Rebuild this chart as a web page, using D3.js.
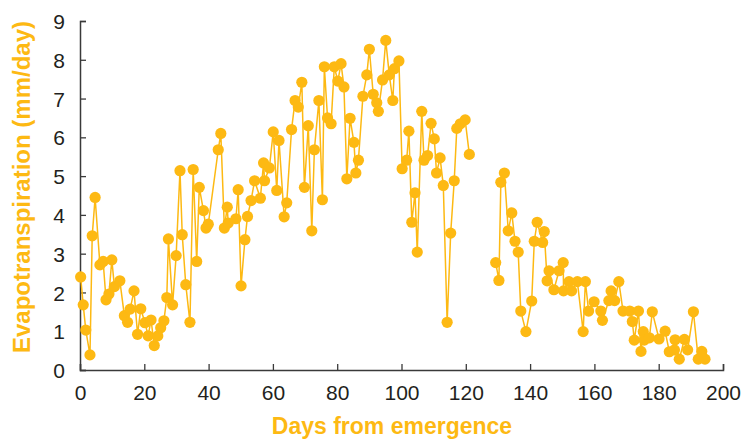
<!DOCTYPE html>
<html>
<head>
<meta charset="utf-8">
<script src="https://cdn.jsdelivr.net/npm/d3@7"></script>
<style>
  html, body { margin: 0; padding: 0; background: #fff; }
  svg { display: block; }
  text { font-family: "Liberation Sans", Arial, sans-serif; }
</style>
</head>
<body>
<svg id="chart" width="749" height="440"></svg>
<script>
// Days from emergence
const days = [
  0.2, 1.0, 1.8, 3.1, 3.8, 4.7, 6.2, 7.2, 8.1, 9.0, 9.9, 10.7, 12.4, 13.8, 14.8, 15.6, 16.8, 17.9, 18.9,
  20.2, 21.2, 22.1, 23.1, 24.2, 25.1, 26.1, 27.0, 27.5, 28.8, 29.9, 31.1, 31.8, 32.9, 34.2, 35.2, 36.3,
  37.1, 38.4, 39.2, 39.9, 43.0, 43.8, 44.9, 45.8, 46.1, 48.5, 49.2, 50.1, 51.3, 52.1, 53.2, 54.3, 56.1,
  57.1, 57.4, 58.9, 60.1, 61.2, 61.9, 63.5, 64.3, 65.8, 66.9, 67.9, 69.0, 69.8, 71.0, 72.1, 72.9, 74.3,
  75.4, 76.0, 77.0, 78.1, 79.1, 80.2, 81.2, 82.1, 83.0, 84.0, 85.2, 85.8, 86.6, 88.0, 89.2, 90.0, 91.2,
  92.3, 92.8, 94.1, 95.1, 96.2, 97.3, 97.8, 99.2, 100.2, 101.6, 102.3, 103.2, 104.2, 104.9, 106.3, 107.0,
  108.1, 109.2, 110.2, 110.9, 112.0, 113.0, 114.2, 115.3, 116.4, 117.2, 118.3, 119.8, 121.1,
  129.3, 130.3, 130.9, 132.0, 133.2, 134.3, 135.3, 136.3, 137.1, 138.7, 140.5, 141.3, 142.2, 143.9,
  144.4, 145.3, 145.9, 147.4, 149.0, 150.3, 150.4, 152.1, 152.9, 154.7, 156.5, 157.2, 158.2, 159.9,
  162.0, 162.5, 164.5, 165.2, 166.3, 167.6, 168.9, 171.0, 171.8, 172.4, 173.7, 174.5, 175.2, 175.5,
  177.1, 178.0, 180.1, 182.0, 183.3, 184.9, 185.1, 186.4, 188.0, 189.0, 190.8, 192.3, 193.4, 194.4
];
// Evapotranspiration (mm/day)
const et = [
  2.40, 1.68, 1.03, 0.39, 3.46, 4.45, 2.71, 2.80, 1.81, 1.96, 2.84, 2.15, 2.30, 1.40, 1.23, 1.57, 2.04, 0.92, 1.58,
  1.22, 0.88, 1.29, 0.63, 0.88, 1.09, 1.27, 1.87, 3.38, 1.68, 2.95, 5.14, 3.49, 2.20, 1.23, 5.17, 2.80,
  4.71, 4.11, 3.66, 3.76, 5.68, 6.10, 3.66, 4.20, 3.79, 3.90, 4.65, 2.17, 3.36, 3.96, 4.37, 4.88, 4.43,
  5.34, 4.88, 5.21, 6.14, 4.63, 5.92, 3.95, 4.31, 6.20, 6.95, 6.78, 7.42, 4.71, 6.30, 3.59, 5.68, 6.95,
  4.39, 7.82, 6.50, 6.35, 7.82, 7.45, 7.90, 7.30, 4.93, 6.49, 5.87, 5.08, 5.41, 7.06, 7.61, 8.27, 7.11,
  6.89, 6.67, 7.48, 8.50, 7.61, 6.95, 7.77, 7.97, 5.19, 5.41, 6.16, 3.81, 4.57, 3.04, 6.67, 5.41,
  5.53, 6.36, 5.96, 5.08, 5.47, 4.76, 1.23, 3.53, 4.88, 6.23, 6.35, 6.45, 5.56,
  2.77, 2.31, 4.84, 5.08, 3.59, 4.05, 3.32, 3.04, 1.52, 0.99, 1.78, 3.32, 3.81, 3.29,
  3.57, 2.30, 2.56, 2.07, 2.56, 2.77, 2.04, 2.28, 2.04, 2.28, 0.99, 2.28, 1.52, 1.76,
  1.52, 1.28, 1.79, 2.04, 1.79, 2.28, 1.52, 1.52, 1.25, 0.77, 1.52, 0.48, 0.99, 0.77,
  0.83, 1.50, 0.80, 1.00, 0.47, 0.52, 0.78, 0.28, 0.79, 0.52, 1.50, 0.28, 0.48, 0.28
];
const xTicks = [0, 20, 40, 60, 80, 100, 120, 140, 160, 180, 200];
const yTicks = [0, 1, 2, 3, 4, 5, 6, 7, 8, 9];
const xTitle = "Days from emergence";
const yTitle = "Evapotranspiration (mm/day)";

const W = 749, H = 440;
const margin = { top: 21, right: 26, bottom: 70, left: 80 };
const svg = d3.select("#chart");
const gold = "#FDB913";
const axisColor = "#3a3a3a";

const x = d3.scaleLinear().domain([0, 200]).range([margin.left, W - margin.right]);
const y = d3.scaleLinear().domain([0, 9]).range([H - margin.bottom, margin.top]);

const data = days.map((d, i) => ({ d, v: et[i] }));

// Axes
const xAxis = d3.axisBottom(x).tickValues(xTicks).tickSize(-6).tickPadding(15).tickFormat(d3.format("d"));
const yAxis = d3.axisLeft(y).tickValues(yTicks).tickSize(-6).tickPadding(15).tickFormat(d3.format("d"));

const gx = svg.append("g").attr("transform", `translate(0,${y(0)})`).call(xAxis);
const gy = svg.append("g").attr("transform", `translate(${x(0)},0)`).call(yAxis);
[gx, gy].forEach(g => {
  g.select(".domain").attr("stroke", axisColor).attr("stroke-width", 1.5);
  g.selectAll(".tick line").attr("stroke", axisColor).attr("stroke-width", 1.3);
  g.selectAll(".tick text").attr("fill", "#231f20").style("font-size", "21px")
    .style("font-family", "'Liberation Sans', Arial, sans-serif");
});
gy.selectAll(".tick text").attr("dy", "0.36em");

// Line and points
const line = d3.line().x(p => x(p.d)).y(p => y(p.v));
const gapBreak = 126;
const seg1 = data.filter(p => p.d < gapBreak);
const seg2 = data.filter(p => p.d >= gapBreak);
[seg1, seg2].forEach(seg => {
  svg.append("path").datum(seg).attr("d", line)
    .attr("fill", "none").attr("stroke", gold).attr("stroke-width", 1.5);
});
svg.append("g").selectAll("circle").data(data).join("circle")
  .attr("cx", p => x(p.d)).attr("cy", p => y(p.v)).attr("r", 5.6)
  .attr("fill", gold);

// Titles
svg.append("text").attr("x", 392).attr("y", 434)
  .attr("text-anchor", "middle").attr("fill", gold)
  .style("font-size", "23px").style("font-weight", "bold").text(xTitle);
svg.append("text").attr("transform", `translate(30,187) rotate(-90)`)
  .attr("text-anchor", "middle").attr("fill", gold)
  .style("font-size", "24px").style("font-weight", "bold").text(yTitle);
</script>
</body>
</html>
